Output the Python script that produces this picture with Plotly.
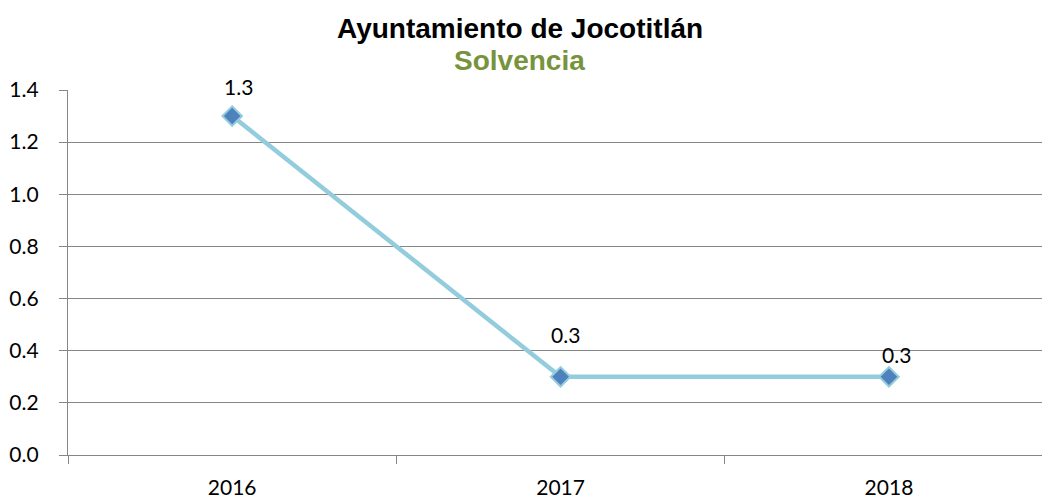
import plotly.graph_objects as go

years = ['2016', '2017', '2018']
solvencia = [1.3, 0.3, 0.3]
labels = ['1.3', '0.3', '0.3']
y_ticks = [0.0, 0.2, 0.4, 0.6, 0.8, 1.0, 1.2, 1.4]

# Excel-style data labels were nudged by hand, keep their offsets (px)
label_dx = [6, 5, 8]
label_dy = [30, 42, 22]

tick_font = dict(family='Lato, Carlito, Open Sans, sans-serif', size=21, color='black')
title_font = dict(family='Liberation Sans, Arial, sans-serif', size=28, weight='bold')

fig = go.Figure()
fig.add_trace(go.Scatter(x=years, y=solvencia,
                         mode='lines+markers',
                         line=dict(color='#93CDDD', width=4.5),
                         marker=dict(symbol='diamond', size=15, color='#4F81BD',
                                     line=dict(color='#93CDDD', width=2)),
                         cliponaxis=False,
                         showlegend=False))

# category index as x so '2016' is not read as a number
for i, (val, lab, dx, dy) in enumerate(zip(solvencia, labels, label_dx, label_dy)):
    fig.add_annotation(x=i, y=val, text=lab, showarrow=False,
                       xshift=dx, yshift=dy, yanchor='middle', font=tick_font)

fig.add_annotation(text='Ayuntamiento de Jocotitlán', xref='paper', yref='paper',
                   x=0.464, y=1.0 + (90 - 29) / 365, yanchor='middle', showarrow=False,
                   font=dict(title_font, color='black'))
fig.add_annotation(text='Solvencia', xref='paper', yref='paper',
                   x=0.464, y=1.0 + (90 - 60) / 365, yanchor='middle', showarrow=False,
                   font=dict(title_font, color='#77933C'))

fig.update_layout(
    width=1042, height=501,
    margin=dict(l=68, r=0, t=90, b=46),
    plot_bgcolor='white', paper_bgcolor='white',
)
fig.update_xaxes(type='category', range=[-0.5, 2.466], tickson='boundaries',
                 ticks='outside', ticklen=8, tickcolor='#868686',
                 showline=True, linecolor='#868686', linewidth=1.3,
                 showgrid=False, tickfont=tick_font, ticklabelstandoff=14,
                 automargin=False)
fig.update_yaxes(range=[0, 1.4], tickvals=y_ticks, tickformat='.1f',
                 ticks='outside', ticklen=8, tickcolor='#868686',
                 showline=True, linecolor='#868686', linewidth=1.3,
                 gridcolor='#868686', gridwidth=1.3, zeroline=False,
                 tickfont=tick_font, ticklabelstandoff=16, automargin=False)

# drop the browser's default body margin so the chart sits at the page corner
fig.write_html('out.html', config={'displayModeBar': False},
               post_script="document.body.style.margin='0';")
